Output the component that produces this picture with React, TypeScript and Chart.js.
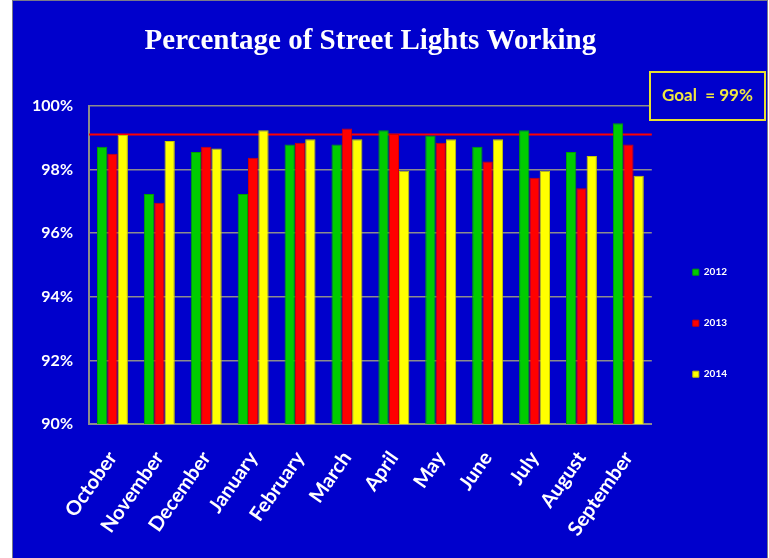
import React, { useEffect, useRef } from 'react';
import { Chart, registerables } from 'chart.js';

Chart.register(...registerables);

const months = ['October', 'November', 'December', 'January', 'February', 'March', 'April', 'May', 'June', 'July', 'August', 'September'];
const seriesNames = ['2012', '2013', '2014'];
const values2012 = [98.71, 97.23, 98.55, 97.23, 98.78, 98.78, 99.23, 99.07, 98.71, 99.23, 98.55, 99.45];
const values2013 = [98.49, 96.95, 98.71, 98.37, 98.84, 99.29, 99.11, 98.84, 98.25, 97.74, 97.41, 98.78];
const values2014 = [99.08, 98.89, 98.66, 99.23, 98.95, 98.95, 97.96, 98.95, 98.95, 97.96, 98.42, 97.8];
const goalValue = 99.1;
const goalLabel = 'Goal  = 99%';
const titleText = 'Percentage of Street Lights Working';
const yMin = 90;
const yMax = 100;
const yStep = 2;

const BG = '#0000CC';

export default function App() {
  const ref = useRef<HTMLCanvasElement | null>(null);

  useEffect(() => {
    if (!ref.current) return;

    const background = {
      id: 'bg',
      beforeDraw(chart: any) {
        const { ctx, width, height } = chart;
        ctx.save();
        ctx.fillStyle = '#FFFFFF';
        ctx.fillRect(0, 0, width, height);
        ctx.fillStyle = '#7A7A8A';
        ctx.fillRect(12, 0, 756, height);
        ctx.fillStyle = BG;
        ctx.fillRect(13, 1, 754, height - 1);
        ctx.restore();
      },
    };

    const goalLine = {
      id: 'goalLine',
      beforeDatasetsDraw(chart: any) {
        const { ctx, chartArea } = chart;
        const y = chart.scales.y.getPixelForValue(goalValue);
        ctx.save();
        ctx.strokeStyle = '#FF0000';
        ctx.lineWidth = 2;
        ctx.beginPath();
        ctx.moveTo(chartArea.left, y);
        ctx.lineTo(chartArea.right, y);
        ctx.stroke();
        ctx.restore();
      },
    };

    const goalBox = {
      id: 'goalBox',
      afterDraw(chart: any) {
        const { ctx } = chart;
        ctx.save();
        ctx.fillStyle = BG;
        ctx.fillRect(650, 72, 115, 48);
        ctx.strokeStyle = '#E8E030';
        ctx.lineWidth = 2;
        ctx.strokeRect(650, 72, 115, 48);
        ctx.fillStyle = '#F0E840';
        ctx.font = 'bold 17px Lato, sans-serif';
        ctx.textAlign = 'center';
        ctx.textBaseline = 'middle';
        ctx.fillText(goalLabel, 707.5, 96);
        ctx.restore();
      },
    };

    const chart = new Chart(ref.current, {
      type: 'bar',
      data: {
        labels: months,
        datasets: [
          { label: seriesNames[0], data: values2012, backgroundColor: '#00CC00', borderColor: '#00A000', borderWidth: 1 },
          { label: seriesNames[1], data: values2013, backgroundColor: '#FF0000', borderColor: '#D00000', borderWidth: 1 },
          { label: seriesNames[2], data: values2014, backgroundColor: '#FFFF00', borderColor: '#C8C800', borderWidth: 1 },
        ],
      },
      options: {
        responsive: false,
        animation: false,
        datasets: { bar: { barPercentage: 1, categoryPercentage: 0.66 } },
        layout: { padding: { left: 0, right: 32, top: 0, bottom: 0 } },
        plugins: {
          tooltip: { enabled: false },
          title: {
            display: true,
            text: titleText,
            fullSize: false,
            color: '#FFFFFF',
            font: { family: "'Liberation Serif', serif", size: 29, weight: 'bold', lineHeight: 1.2 },
            padding: { top: 24, bottom: 47 },
          },
          legend: {
            display: true,
            position: 'right',
            align: 'center',
            title: { display: true, text: '', padding: { top: 74, bottom: 0 }, font: { size: 12 } },
            labels: {
              color: '#FFFFFF',
              boxWidth: 6,
              boxHeight: 6,
              padding: 41,
              font: { family: 'Lato, sans-serif', size: 10, weight: 'bold' },
            },
          },
        },
        scales: {
          x: {
            grid: { display: false, drawTicks: false },
            border: { display: true, color: '#8C8C8C', width: 2 },
            ticks: {
              color: '#FFFFFF',
              maxRotation: 55,
              minRotation: 55,
              padding: 23,
              font: { family: 'Lato, sans-serif', size: 20, weight: 'bold' },
            },
            afterFit(scale: any) {
              scale.height = 134;
            },
          },
          y: {
            min: yMin,
            max: yMax,
            grid: { color: '#8C8C8C', lineWidth: 1.5, drawTicks: false },
            border: { display: true, color: '#8C8C8C', width: 2 },
            ticks: {
              stepSize: yStep,
              color: '#FFFFFF',
              padding: 16,
              font: { family: 'Lato, sans-serif', size: 16, weight: 'bold' },
              callback: (v: any) => `${v}%`,
            },
            afterFit(scale: any) {
              scale.width = 89;
            },
          },
        },
      },
      plugins: [background, goalLine, goalBox],
    });

    return () => chart.destroy();
  }, []);

  return (
    <div style={{ position: 'absolute', left: 0, top: 0, width: 769, height: 558, background: '#FFFFFF' }}>
      <canvas ref={ref} width={769} height={558} style={{ display: 'block', width: 769, height: 558 }} />
    </div>
  );
}
